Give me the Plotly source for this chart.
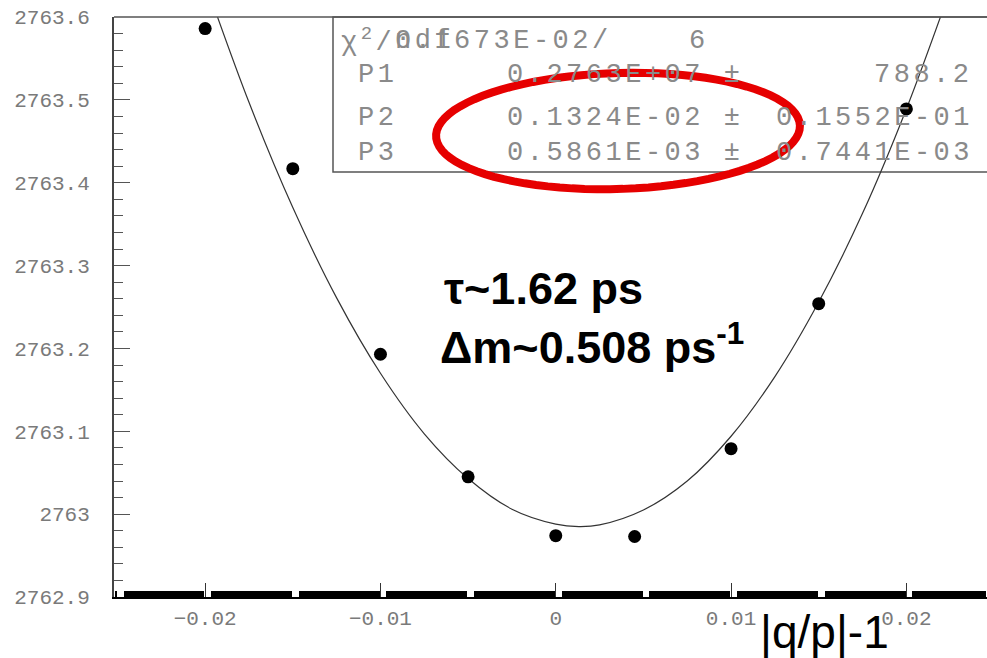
import numpy as np
import plotly.graph_objects as go

# ---------------- data ----------------
x_points = [-0.02, -0.015, -0.01, -0.005, 0.0, 0.0045, 0.01, 0.015, 0.02]
y_points = [2763.586, 2763.417, 2763.193, 2763.045, 2762.974, 2762.973, 2763.079, 2763.254, 2763.489]

fit_x = [-0.0205, -0.02, -0.0175, -0.015, -0.0125, -0.01, -0.0075, -0.005, -0.0025,
         0.0, 0.00132, 0.0025, 0.005, 0.0075, 0.01, 0.0125, 0.015, 0.0175, 0.02, 0.0225]
fit_y = [2763.673, 2763.642, 2763.497, 2763.370, 2763.261, 2763.170, 2763.097, 2763.043, 2763.006,
         2762.988, 2762.985, 2762.987, 2763.005, 2763.040, 2763.094, 2763.166, 2763.256, 2763.363,
         2763.489, 2763.633]

x_tickvals = [-0.02, -0.01, 0.0, 0.01, 0.02]
x_ticktext = ["\u22120.02", "\u22120.01", "0", "0.01", "0.02"]
y_tickvals = [2762.9, 2763.0, 2763.1, 2763.2, 2763.3, 2763.4, 2763.5, 2763.6]
y_ticktext = ["2762.9", "2763", "2763.1", "2763.2", "2763.3", "2763.4", "2763.5", "2763.6"]

stat_labels = ["P1", "P2", "P3"]
stat_values = ["0.2763E+07 ±", "0.1324E-02 ±", "0.5861E-03 ±"]
stat_errors = ["788.2", "0.1552E-01", "0.7441E-03"]
chi2_label = "χ<sup>2</sup>/"
ndf_label = "ndf"
chi2_value = "0.1673E-02/"
ndf_value = "6"

x_range = [-0.0252, 0.0246]
y_range = [2762.9, 2763.6]

# ---------------- layout geometry ----------------
W, H = 987, 658
L, R, T, B = 114, 0, 17, 61
PW, PH = W - L - R, H - T - B


def fx(px):
    return (px - L) / PW


def fy(py):
    return (H - B - py) / PH


GRAY = "#8a8a8a"
MONO = "Liberation Mono"


def sp(s):
    return '<span style="letter-spacing:3.5px">' + s + '</span>'


fig = go.Figure()

fig.add_trace(go.Scatter(
    x=fit_x, y=fit_y, mode="lines", line=dict(color="#333333", width=1.2, shape="spline"),
    hoverinfo="skip", showlegend=False))

fig.add_trace(go.Scatter(
    x=x_points, y=y_points, mode="markers",
    marker=dict(color="black", size=13, line=dict(width=0)),
    cliponaxis=False, showlegend=False))

# dense minor ticks along the x axis with small gaps after every 0.005
mv = np.round(np.arange(-0.0252, 0.02461, 0.0001), 5)
rem = np.mod(mv + 1e-9, 0.005)
minor_vals = [float(v) for v, r in zip(mv, rem) if r > 0.00035]

fig.update_xaxes(
    range=x_range, showgrid=False, zeroline=False,
    showline=True, linecolor="black", linewidth=2,
    ticks="inside", ticklen=14, tickwidth=1, tickcolor="#333",
    tickmode="array", tickvals=x_tickvals, ticktext=x_ticktext,
    tickfont=dict(family=MONO, size=21, color="#7a7a7a"),
    ticklabelstandoff=1,
    minor=dict(tickmode="array", tickvals=minor_vals, ticks="inside", ticklen=6,
               tickwidth=2, tickcolor="black"),
)
fig.update_yaxes(
    range=y_range, showgrid=False, zeroline=False,
    showline=True, linecolor="#444", linewidth=2,
    ticks="inside", ticklen=16, tickwidth=1.2, tickcolor="#555",
    tickmode="array", tickvals=y_tickvals, ticktext=y_ticktext,
    tickfont=dict(family=MONO, size=21, color="#7a7a7a"),
    ticklabelstandoff=18,
    minor=dict(tickmode="linear", tick0=2762.9, dtick=0.02, ticks="inside", ticklen=9,
               tickwidth=1.2, tickcolor="#555"),
)

shapes = []
# top frame
shapes.append(dict(type="line", xref="paper", yref="paper", x0=0, x1=1.05, y0=1, y1=1,
                   line=dict(color="#555", width=1.5)))
# statistics box
shapes.append(dict(type="rect", xref="paper", yref="paper", x0=fx(333), x1=1.05, y0=fy(172), y1=1,
                   line=dict(color="#555", width=1.5), fillcolor="white", layer="below"))

# red hand-drawn ellipse (slightly tilted)
cx, cy, a, b, th = 618, 131, 182, 58, np.deg2rad(-1.7)
t = np.linspace(0, 2 * np.pi, 90)
ex = cx + a * np.cos(t) * np.cos(th) - b * np.sin(t) * np.sin(th)
ey = cy + a * np.cos(t) * np.sin(th) + b * np.sin(t) * np.cos(th)
path = "M " + " L ".join(f"{fx(X):.5f},{fy(Y):.5f}" for X, Y in zip(ex, ey)) + " Z"
shapes.append(dict(type="path", xref="paper", yref="paper", path=path,
                   line=dict(color="#e60000", width=8), layer="above"))

ann = []
row_y = [75, 118, 153]
sfont = dict(family=MONO, size=27, color=GRAY)
# chi2 row (overlapping text like the original)
ann.append(dict(x=fx(397), y=fy(41), xref="paper", yref="paper", xanchor="right", yanchor="middle",
                text=sp(chi2_label), showarrow=False, font=sfont))
ann.append(dict(x=fx(393), y=fy(41), xref="paper", yref="paper", xanchor="left", yanchor="middle",
                text=sp(ndf_label), showarrow=False, font=sfont))
ann.append(dict(x=fx(393), y=fy(41), xref="paper", yref="paper", xanchor="left", yanchor="middle",
                text=sp(chi2_value), showarrow=False, font=sfont))
ann.append(dict(x=fx(697), y=fy(41), xref="paper", yref="paper", xanchor="center", yanchor="middle",
                text=ndf_value, showarrow=False, font=sfont))
for lab, val, err, yy in zip(stat_labels, stat_values, stat_errors, row_y):
    ann.append(dict(x=fx(356), y=fy(yy), xref="paper", yref="paper", xanchor="left", yanchor="middle",
                    text=sp(lab), showarrow=False, font=sfont))
    ann.append(dict(x=fx(505), y=fy(yy), xref="paper", yref="paper", xanchor="left", yanchor="middle",
                    text=sp(val), showarrow=False, font=sfont))
    ann.append(dict(x=fx(975), y=fy(yy), xref="paper", yref="paper", xanchor="right", yanchor="middle",
                    text=sp(err), showarrow=False, font=sfont))

# bold physics annotations
ann.append(dict(x=fx(442), y=fy(288), xref="paper", yref="paper", xanchor="left", yanchor="middle",
                text="<b>τ~1.62 ps</b>", showarrow=False,
                font=dict(family="Liberation Sans", size=45, color="black")))
ann.append(dict(x=fx(438), y=fy(344), xref="paper", yref="paper", xanchor="left", yanchor="middle",
                text="<b>Δm~0.508 ps<sup>-1</sup></b>", showarrow=False,
                font=dict(family="Liberation Sans", size=45, color="black")))

# axis title
ann.append(dict(x=fx(824), y=fy(632), xref="paper", yref="paper", xanchor="center", yanchor="middle",
                text="|q/p|-1", showarrow=False,
                font=dict(family="Liberation Sans", size=46, color="black")))

fig.update_layout(
    width=W, height=H,
    margin=dict(l=L, r=R, t=T, b=B),
    paper_bgcolor="white", plot_bgcolor="white",
    shapes=shapes, annotations=ann, showlegend=False,
)

fig.write_html("out.html")
